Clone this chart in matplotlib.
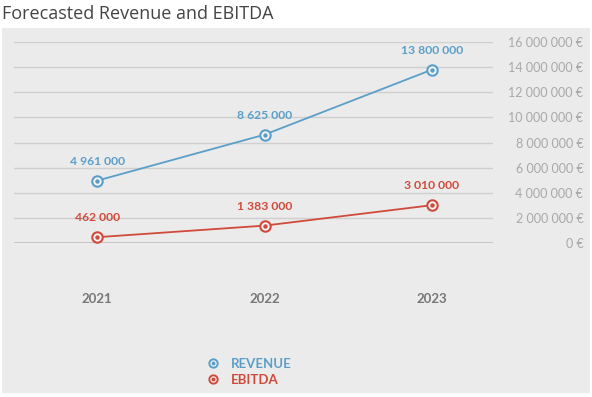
import matplotlib
matplotlib.use("Agg")
import matplotlib.pyplot as plt
from matplotlib.patches import Rectangle
from matplotlib.ticker import FuncFormatter
from matplotlib.legend_handler import HandlerTuple

plt.rcParams['font.family'] = ['Lato', 'DejaVu Sans']

years = ["2021", "2022", "2023"]
revenue = [4961000, 8625000, 13800000]
ebitda = [462000, 1383000, 3010000]
yticks = [0, 2000000, 4000000, 6000000, 8000000, 10000000, 12000000, 14000000, 16000000]
series_names = ["REVENUE", "EBITDA"]

W, H = 592, 397
fig = plt.figure(figsize=(W / 100, H / 100), dpi=100)
fig.patch.set_facecolor("white")
fig.patches.append(Rectangle((2 / W, 4 / H), 588 / W, 365 / H, transform=fig.transFigure,
                             facecolor="#ebebeb", edgecolor="none", zorder=-5))
fig.text(2 / W, 1 - 14 / H, "Forecasted Revenue and EBITDA", fontsize=13, color="#444444",
         va="center", ha="left", family=["Open Sans", "DejaVu Sans"])

ax = fig.add_axes([14 / W, 1 - 243 / H, 479 / W, 201 / H])
ax.set_facecolor("none")
for s in ax.spines.values():
    s.set_visible(False)

x = list(range(len(years)))
ax.set_xlim(-0.496, 2.364)
ax.set_ylim(0, 16000000)
ax.set_yticks(yticks)
ax.yaxis.set_major_formatter(FuncFormatter(lambda v, p: f"{int(v):,}".replace(",", " ") + " €"))
ax.yaxis.tick_right()
ax.tick_params(axis="y", length=0, pad=65, labelsize=9, labelcolor="#a8a8a8")
for lab in ax.get_yticklabels():
    lab.set_horizontalalignment("right")
ax.set_xticks(x)
ax.set_xticklabels(years)
ax.tick_params(axis="x", length=0, pad=36, labelsize=9.5, labelcolor="#777777")
for lab in ax.get_xticklabels():
    lab.set_fontweight("bold")
ax.grid(axis="y", color="#cfcfcf", linewidth=1)
ax.axhline(0, color="#bdbdbd", linewidth=1.2, zorder=1)

colors = ["#5b9fc8", "#d04a3b"]
for vals, c, name in zip([revenue, ebitda], colors, series_names):
    ax.plot(x, vals, color=c, linewidth=1.3, marker="o", markersize=7.5,
            markerfacecolor="#f4f4f4", markeredgecolor=c, markeredgewidth=1.5,
            zorder=3, label=name)
    ax.plot(x, vals, linestyle="none", marker="o", markersize=2.2, color=c, zorder=4)
    for xi, v in zip(x, vals):
        ax.annotate(f"{v:,}".replace(",", " "), (xi, v), xytext=(0, 10),
                    textcoords="offset points", ha="center", va="bottom",
                    fontsize=8.7, color=c, fontweight="bold")

leg_handles = []
for c, name in zip(colors, series_names):
    ring, = ax.plot([], [], linestyle="none", marker="o", markersize=6, markerfacecolor="#f4f4f4",
                    markeredgecolor=c, markeredgewidth=1.4)
    dot, = ax.plot([], [], linestyle="none", marker="o", markersize=1.8, color=c)
    leg_handles.append((ring, dot))
leg = fig.legend(handles=leg_handles, labels=series_names, loc="center left",
                 bbox_to_anchor=(206 / W, 1 - 372 / H), frameon=False, fontsize=9.5,
                 labelcolor=colors, handletextpad=0.9, labelspacing=0.3, handlelength=1.0,
                 borderaxespad=0, borderpad=0,
                 handler_map={tuple: HandlerTuple(ndivide=1)})
for t in leg.get_texts():
    t.set_fontweight("bold")

fig.savefig("out.png", dpi=100, facecolor="white")
